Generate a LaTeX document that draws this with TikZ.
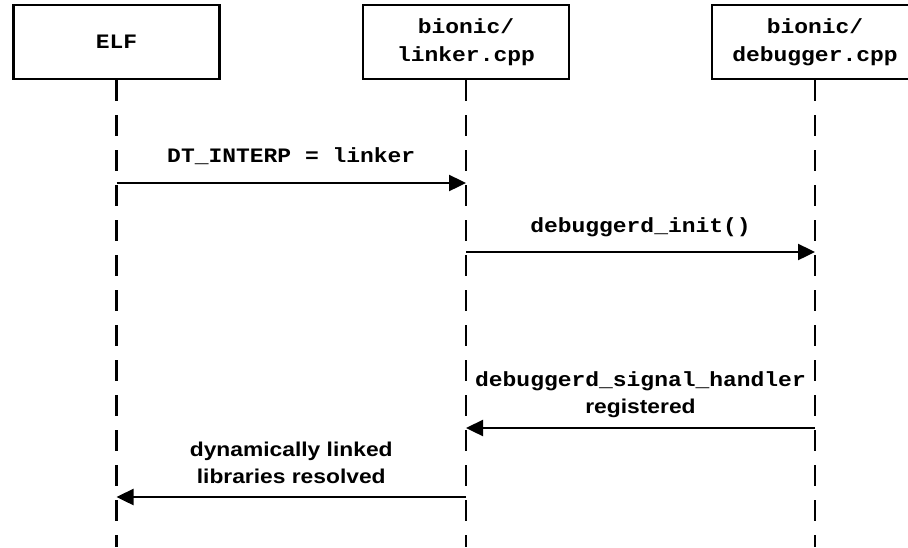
\documentclass[tikz,border=0pt]{standalone}
\usepackage{fontspec}
\usetikzlibrary{arrows.meta}
\newfontfamily\codefont{Liberation Mono}[FakeStretch=1.12]
\newfontfamily\labelfont{Liberation Sans}[FakeStretch=1.14]

\tikzset{
    actor/.style={draw, line width=2.2pt, minimum width=206pt, minimum height=74pt,
        align=center, inner sep=0pt, font=\codefont\bfseries\fontsize{20.5}{28}\selectfont},
    lifeline/.style={line width=2.6pt, dash pattern=on 21pt off 14pt},
    msg/.style={line width=2.4pt, -{Triangle[length=17pt, width=16pt]}},
    code/.style={midway, anchor=base, align=center, inner sep=0pt,
        font=\codefont\bfseries\fontsize{20.5}{27}\selectfont},
    txt/.style={midway, anchor=base, align=center, inner sep=0pt,
        font=\labelfont\bfseries\fontsize{20}{26.6}\selectfont},
}

\begin{document}
\begin{tikzpicture}[x=1pt, y=-1pt]
    \useasboundingbox (0, 0) rectangle (908, 547);

    % Participants
    \node[actor] (elf) at (116.5, 42) {ELF};
    \node[actor] (linker) at (466, 42) {bionic/\\linker.cpp};
    \node[actor] (debugger) at (815, 42) {bionic/\\debugger.cpp};

    % Lifelines
    \draw[lifeline] (elf.south) -- (elf |- 0, 547);
    \draw[lifeline] (linker.south) -- (linker |- 0, 547);
    \draw[lifeline] (debugger.south) -- (debugger |- 0, 547);

    % Messages
    \draw[msg] (elf |- 0, 183) -- node[code, yshift=21pt] {DT\_INTERP = linker} (linker |- 0, 183);
    \draw[msg] (linker |- 0, 252) -- node[code, yshift=20pt] {debuggerd\_init()} (debugger |- 0, 252);
    \draw[msg] (debugger |- 0, 428) -- node[code, yshift=15pt]
        {debuggerd\_signal\_handler\\{\labelfont\fontsize{20}{27}\selectfont registered}} (linker |- 0, 428);
    \draw[msg] (linker |- 0, 497) -- node[txt, yshift=14pt]
        {dynamically linked\\libraries resolved} (elf |- 0, 497);
\end{tikzpicture}
\end{document}
